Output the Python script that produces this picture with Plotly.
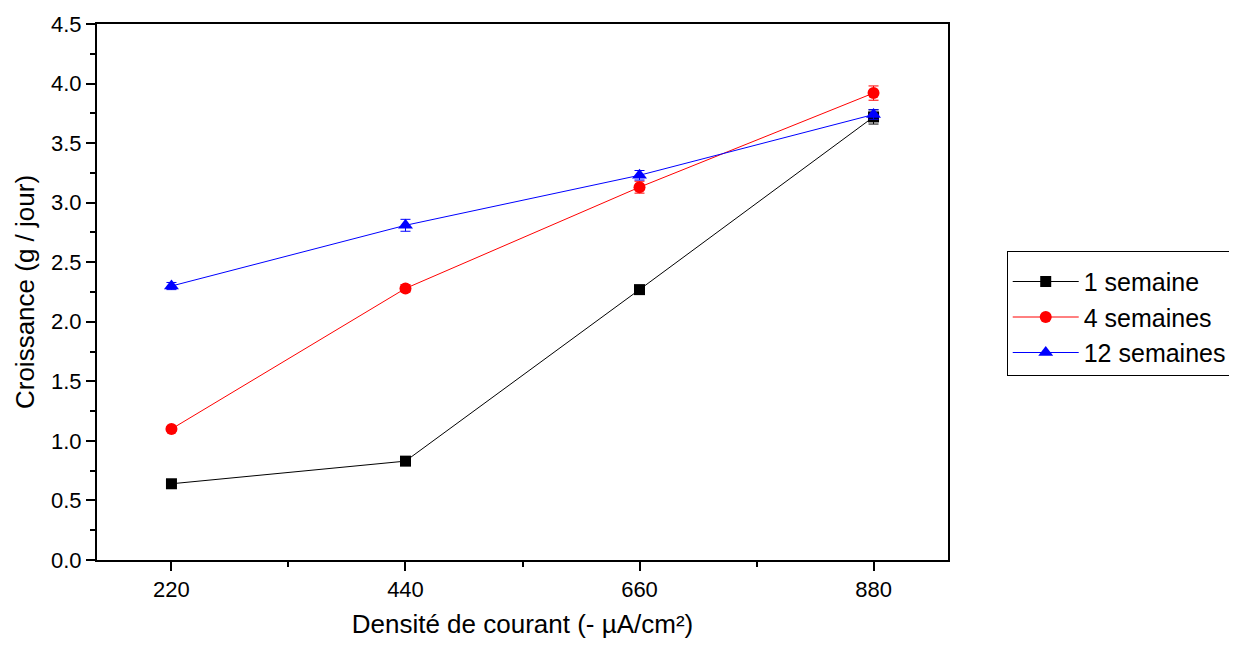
import plotly.graph_objects as go

densite = [220, 440, 660, 880]
s1 = [0.64, 0.83, 2.27, 3.72]
s1_err = [0.02, 0.02, 0.03, 0.06]
s4 = [1.10, 2.28, 3.13, 3.92]
s4_err = [0.02, 0.03, 0.05, 0.06]
s12 = [2.30, 2.81, 3.23, 3.74]
s12_err = [0.03, 0.05, 0.04, 0.04]

series = [
    ("1 semaine", s1, s1_err, "black", "square", 11),
    ("4 semaines", s4, s4_err, "red", "circle", 12),
    ("12 semaines", s12, s12_err, "blue", "triangle-up", 13),
]

FONT = "Liberation Sans, Arial"

fig = go.Figure()
for name, y, err, col, sym, sz in series:
    fig.add_trace(go.Scatter(
        x=densite, y=y, name=name, mode="lines+markers",
        line=dict(color=col, width=1),
        marker=dict(color=col, symbol=sym, size=sz),
        error_y=dict(type="data", array=err, color=col, thickness=1, width=5),
    ))

axis_common = dict(
    showline=True, linecolor="black", linewidth=2, mirror=True,
    ticks="outside", ticklen=9, tickwidth=2, tickcolor="black",
    showgrid=False, zeroline=False,
    tickfont=dict(family=FONT, size=22, color="black"),
)

fig.update_xaxes(
    range=[150, 950], tickvals=densite, ticktext=[str(v) for v in densite],
    minor=dict(ticks="outside", ticklen=5, tickwidth=2, tickcolor="black", dtick=110, tick0=0),
    title=dict(text="Densité de courant (- µA/cm²)", font=dict(family=FONT, size=26, color="black"), standoff=13),
    **axis_common,
)
fig.update_yaxes(
    range=[0, 4.5], dtick=0.5, tick0=0, tickformat=".1f",
    minor=dict(ticks="outside", ticklen=5, tickwidth=2, tickcolor="black", dtick=0.25, tick0=0),
    title=dict(text="Croissance (g / jour)", font=dict(family=FONT, size=26, color="black"), standoff=9),
    **axis_common,
)

fig.update_layout(
    width=1237, height=646,
    margin=dict(l=89, r=297, t=16, b=94, autoexpand=False),
    plot_bgcolor="white", paper_bgcolor="white",
    legend=dict(
        x=1.069, y=0.576, xanchor="left", yanchor="top",
        bordercolor="black", borderwidth=1,
        font=dict(family=FONT, size=25, color="black"),
        itemwidth=66, tracegroupgap=0,
        title=dict(text=" ", font=dict(size=5)),
    ),
)

fig.write_html("out.html")
